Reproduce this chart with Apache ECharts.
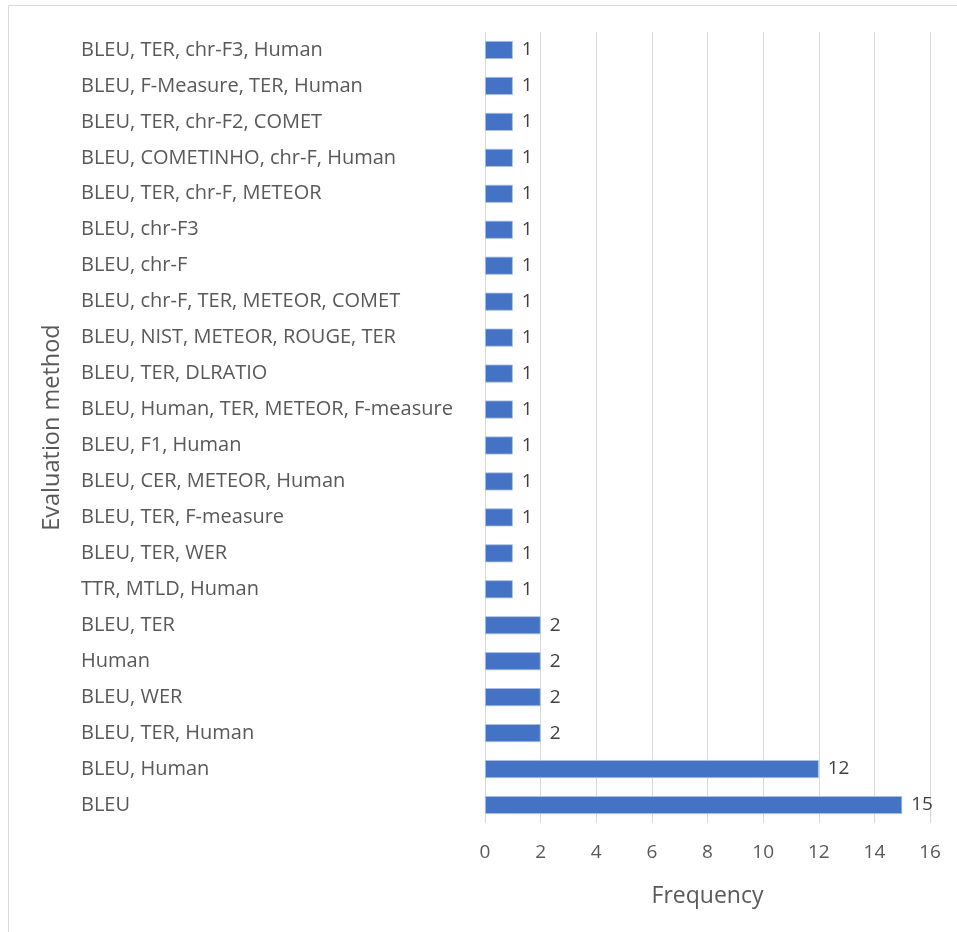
<!DOCTYPE html>
<html>
<head>
<meta charset="utf-8">
<style>
  html, body { margin: 0; padding: 0; background: #ffffff; }
  #chart { width: 957px; height: 932px; }
</style>
<script src="https://cdn.jsdelivr.net/npm/echarts@6/dist/echarts.min.js"></script>
</head>
<body>
<div id="chart"></div>
<script>
// Evaluation method combinations, listed bottom to top
const categories = [
  'BLEU',
  'BLEU, Human',
  'BLEU, TER, Human',
  'BLEU, WER',
  'Human',
  'BLEU, TER',
  'TTR, MTLD, Human',
  'BLEU, TER, WER',
  'BLEU, TER, F-measure',
  'BLEU, CER, METEOR, Human',
  'BLEU, F1, Human',
  'BLEU, Human, TER, METEOR, F-measure',
  'BLEU, TER, DLRATIO',
  'BLEU, NIST, METEOR, ROUGE, TER',
  'BLEU, chr-F, TER, METEOR, COMET',
  'BLEU, chr-F',
  'BLEU, chr-F3',
  'BLEU, TER, chr-F, METEOR',
  'BLEU, COMETINHO, chr-F, Human',
  'BLEU, TER, chr-F2, COMET',
  'BLEU, F-Measure, TER, Human',
  'BLEU, TER, chr-F3, Human'
];

// How often each combination was used
const frequency = [15, 12, 2, 2, 2, 2, 1, 1, 1, 1, 1, 1, 1, 1, 1, 1, 1, 1, 1, 1, 1, 1];

// Horizontal axis ticks
const xTicks = [0, 2, 4, 6, 8, 10, 12, 14, 16];

const chart = echarts.init(document.getElementById('chart'));
const font = 'Open Sans, sans-serif';

chart.setOption({
  backgroundColor: '#ffffff',
  animation: false,
  graphic: [{
    type: 'rect',
    shape: { x: 8.5, y: 5.5, width: 960, height: 940 },
    style: { fill: 'none', stroke: '#d9d9d9', lineWidth: 1 },
    silent: true
  }],
  grid: { left: 485, right: 27, top: 32, bottom: 109, containLabel: false },
  xAxis: {
    type: 'value',
    min: xTicks[0],
    max: xTicks[xTicks.length - 1],
    interval: 2,
    name: 'Frequency',
    nameLocation: 'middle',
    nameGap: 62,
    nameTextStyle: { fontFamily: font, fontSize: 23, color: '#595959' },
    axisLine: { show: false },
    axisTick: { show: false },
    axisLabel: { fontFamily: font, fontSize: 19, color: '#595959', margin: 20 },
    splitLine: { show: true, lineStyle: { color: '#d9d9d9', width: 1 } }
  },
  yAxis: {
    type: 'category',
    data: categories,
    name: 'Evaluation method',
    nameLocation: 'middle',
    nameGap: 421,
    nameRotate: 90,
    nameTextStyle: { fontFamily: font, fontSize: 23.5, color: '#595959' },
    axisLine: { show: false },
    axisTick: { show: false },
    axisLabel: {
      fontFamily: font, fontSize: 20, color: '#595959',
      align: 'left', margin: 404, interval: 0
    }
  },
  series: [{
    type: 'bar',
    data: frequency,
    barWidth: 18,
    itemStyle: { color: '#4472c4', borderColor: '#a9c0ea', borderWidth: 0.8 },
    label: {
      show: true, position: 'right', distance: 9,
      fontFamily: font, fontSize: 19, color: '#404040'
    }
  }]
});
</script>
</body>
</html>
